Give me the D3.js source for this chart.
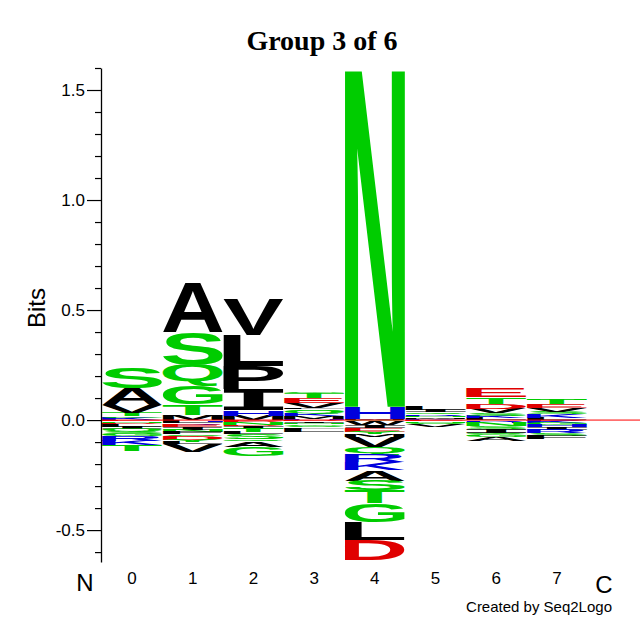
<!DOCTYPE html>
<html><head><meta charset="utf-8">
<script src="https://cdn.jsdelivr.net/npm/d3@7"></script>
<style>body{margin:0;background:#fff}</style>
</head><body>
<svg id="c" width="640" height="640"></svg>
<script>
// ---------- data ----------
const positions = [0, 1, 2, 3, 4, 5, 6, 7];
// letters above zero, listed from the zero line outward
const posLetters = [
  ["K","G","T","V","A","S"],
  ["M","T","G","Q","S","A"],
  ["M","H","I","P","L","V"],
  ["H","M","K","Q","S","L","V","E","T","G"],
  ["M","H","N"],
  ["K","M","N","R","Q","I","L"],
  ["L","K","S","V","D","T","E"],
  ["L","K","S","V","E","T","N"]
];
const posBits = [
  [0.009,0.008,0.014,0.036,0.077,0.095],
  [0.025,0.045,0.085,0.095,0.15,0.22],
  [0.02,0.025,0.095,0.105,0.14,0.16],
  [0.006,0.012,0.01,0.015,0.008,0.006,0.022,0.022,0.02,0.006],
  [0.005,0.055,1.54],
  [0.006,0.008,0.006,0.008,0.008,0.012,0.016],
  [0.008,0.01,0.012,0.022,0.022,0.03,0.04],
  [0.01,0.018,0.01,0.018,0.016,0.02,0.006]
];
// letters below zero, listed from the zero line outward
const negLetters = [
  ["E","N","D","L","I","Q","S","G","R","K","T"],
  ["H","L","R","E","I","N","F","S","D","Y","L","V"],
  ["E","D","N","D","I","T","L","S","Q","A","G"],
  ["D","I","N","G","S","F","L"],
  ["C","W","I","E","Y","M","V","Q","R","K","A","S","T","G","L","D"],
  ["E","N","S","V"],
  ["R","H","N","S","I","Q","G","A"],
  ["D","K","G","H","I","R","S","F"]
];
const negBits = [
  [0.006,0.008,0.004,0.012,0.01,0.012,0.012,0.01,0.02,0.02,0.028],
  [0.007,0.008,0.008,0.01,0.01,0.01,0.01,0.008,0.018,0.01,0.01,0.035],
  [0.006,0.005,0.012,0.005,0.012,0.015,0.01,0.022,0.01,0.025,0.04],
  [0.004,0.008,0.006,0.008,0.006,0.008,0.015],
  [0.005,0.018,0.012,0.018,0.012,0.012,0.045,0.035,0.035,0.035,0.048,0.045,0.058,0.085,0.082,0.09],
  [0.004,0.008,0.006,0.012],
  [0.008,0.006,0.014,0.014,0.015,0.006,0.014,0.018],
  [0.004,0.008,0.01,0.01,0.012,0.016,0.012,0.014]
];
const yTicks = d3.range(-6, 17).map(d => d / 10);
const acidic = ["D","E"], basic = ["K","R","H"], hydrophobic = ["A","V","L","I","P","M","F","W"];
const colors = {acidic: "#e00000", basic: "#0000dd", hydrophobic: "#000000", polar: "#00cc00"};

// ---------- drawing ----------
const svg = d3.select("#c");
const x = d3.scaleLinear().domain([-0.5, 7.5]).range([101.7, 587.3]);
const y = d3.scaleLinear().domain([-0.645, 1.6]).range([562, 68]);
const colW = 60;

function colorOf(ch) {
  if (acidic.includes(ch)) return colors.acidic;
  if (basic.includes(ch)) return colors.basic;
  if (hydrophobic.includes(ch)) return colors.hydrophobic;
  return colors.polar;
}

const FONT = "'Liberation Sans', Arial, Helvetica, sans-serif";
const SERIF_I_FONT = "'DejaVu Sans Mono', 'Liberation Mono', monospace";
const fontFor = ch => ch === "I" ? SERIF_I_FONT : FONT;
const FS = 200;
const ctx = document.createElement("canvas").getContext("2d");
const mcache = {};
function metrics(ch) {
  if (!mcache[ch]) {
    ctx.font = `bold ${FS}px ${fontFor(ch)}`;
    const m = ctx.measureText(ch);
    mcache[ch] = {L: m.actualBoundingBoxLeft, R: m.actualBoundingBoxRight,
                  A: m.actualBoundingBoxAscent, D: m.actualBoundingBoxDescent};
  }
  return mcache[ch];
}

const logo = svg.append("g");
function drawLetter(ch, x0, y0, w, h) {
  if (h <= 0) return;
  const m = metrics(ch);
  const sx = w / (m.L + m.R), sy = h / (m.A + m.D);
  logo.append("text").text(ch)
    .attr("font-family", fontFor(ch)).attr("font-weight", "bold").attr("font-size", FS)
    .attr("fill", colorOf(ch))
    .attr("transform", `translate(${x0 + m.L * sx},${y0 + m.A * sy}) scale(${sx},${sy})`);
}

// zero line
svg.append("line").attr("x1", 101).attr("x2", 640)
  .attr("y1", y(0)).attr("y2", y(0)).attr("stroke", "#ff0000").attr("stroke-width", 1);

positions.forEach((p, i) => {
  const x0 = x(p) - colW / 2;
  let cum = 0;
  posLetters[i].forEach((ch, j) => {
    const b = posBits[i][j];
    const top = y(cum + b), bot = y(cum);
    drawLetter(ch, x0, top, colW, bot - top);
    cum += b;
  });
  cum = 0;
  negLetters[i].forEach((ch, j) => {
    const b = negBits[i][j];
    const top = y(cum), bot = y(cum - b);
    drawLetter(ch, x0, top, colW, bot - top);
    cum -= b;
  });
});

// y axis
const isLabeled = d => Math.abs(Math.round(d * 10)) % 5 === 0;
const ax = svg.append("g").attr("transform", "translate(101,0)")
  .call(d3.axisLeft(y).tickValues(yTicks).tickSize(6).tickSizeOuter(0)
    .tickFormat(d => isLabeled(d) ? (d < 0 ? "-" : "") + Math.abs(d).toFixed(1) : ""));
ax.select(".domain").attr("stroke", "#000").attr("stroke-width", 1.3);
ax.selectAll(".tick line").attr("stroke", "#000").attr("stroke-width", 1.2)
  .attr("x2", d => isLabeled(d) ? -14 : -6);
ax.selectAll(".tick text").attr("x", -16).attr("font-family", FONT)
  .attr("font-size", 17).attr("fill", "#000");

// x labels
svg.append("g").selectAll("text").data(positions).join("text")
  .attr("x", d => x(d)).attr("y", 584).attr("text-anchor", "middle")
  .attr("font-family", FONT).attr("font-size", 17).text(d => d);
svg.append("text").attr("x", 85).attr("y", 591).attr("text-anchor", "middle")
  .attr("font-family", FONT).attr("font-size", 24).text("N");
svg.append("text").attr("x", 604).attr("y", 593).attr("text-anchor", "middle")
  .attr("font-family", FONT).attr("font-size", 24).text("C");
svg.append("text").attr("x", 612).attr("y", 612).attr("text-anchor", "end")
  .attr("font-family", FONT).attr("font-size", 15).text("Created by Seq2Logo");

// axis title
svg.append("text").attr("transform", "translate(45,308) rotate(-90)")
  .attr("text-anchor", "middle").attr("font-family", FONT).attr("font-size", 24).text("Bits");

// chart title
svg.append("text").attr("x", 322).attr("y", 50).attr("text-anchor", "middle")
  .attr("font-family", "'Liberation Serif', 'Times New Roman', serif").attr("font-weight", "bold")
  .attr("font-size", 28).text("Group 3 of 6");
</script>
</body></html>
